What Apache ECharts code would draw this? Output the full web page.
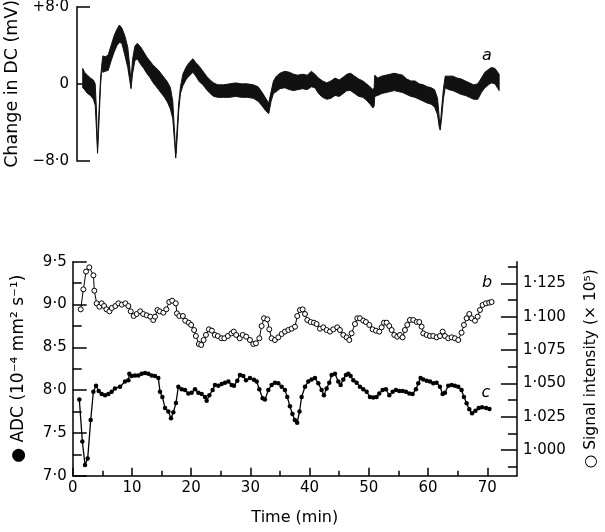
<!DOCTYPE html>
<html><head><meta charset="utf-8">
<script src="https://cdn.jsdelivr.net/npm/echarts@6/dist/echarts.min.js"></script>
<style>html,body{margin:0;padding:0;background:#fff}#c{width:605px;height:532px}</style>
</head><body><div id="c"></div>
<script>
// ---- Panel a: DC potential trace (band drawn between lower and upper envelope), mV vs min
const dcTime  = [1.7,2.0,2.5,3.0,3.5,3.8,4.0,4.2,4.4,4.7,4.95,5.1,5.5,6.0,6.5,7.0,7.5,7.9,8.3,8.8,9.3,9.6,9.85,10.1,10.5,10.9,11.5,12.0,12.5,13.0,13.5,14.0,14.5,15.0,15.5,16.0,16.5,16.9,17.2,17.4,17.6,17.9,18.2,18.6,19.2,19.8,20.3,20.8,21.4,22.0,22.6,23.2,23.8,24.5,25.5,26.5,27.5,28.5,29.5,30.5,31.3,32.0,32.6,33.1,33.5,33.9,34.4,35.0,35.8,36.6,37.3,38.0,38.8,39.6,40.3,40.9,41.5,42.2,42.9,43.6,44.3,45.0,45.7,46.3,46.9,47.6,48.3,49.0,49.6,50.2,50.7,50.9,51.0,51.5,52.2,52.9,53.6,54.3,55.0,55.7,56.4,57.1,57.8,58.5,59.2,59.9,60.5,61.1,61.6,61.9,62.05,62.3,62.6,62.9,63.5,64.2,64.9,65.6,66.3,67.0,67.7,68.4,69.0,69.6,70.2,70.7,71.3,72.0];
const dcUpper = [1.6,1.2,0.9,0.6,0.4,0.0,-2.5,-6.6,-3.5,0.5,2.2,2.9,2.8,3.0,4.0,5.0,5.7,6.1,5.8,5.0,3.8,2.0,0.2,2.5,3.9,4.2,3.8,3.3,2.8,2.4,2.0,1.7,1.4,1.0,0.6,0.2,-0.4,-1.8,-5.0,-7.3,-5.0,-2.0,-0.3,1.0,1.8,2.3,2.6,2.2,1.8,1.3,0.8,0.4,0.1,-0.1,-0.1,0.0,0.1,0.0,0.0,-0.1,-0.3,-0.9,-1.5,-2.0,-0.8,0.3,0.8,1.1,1.3,1.2,1.0,0.9,1.0,0.9,1.3,1.0,0.6,0.3,0.1,0.3,0.6,0.4,0.7,1.0,1.1,0.8,0.5,0.3,0.0,-0.3,-0.6,-0.4,0.9,0.6,0.8,0.9,1.0,1.1,1.0,0.9,0.5,0.3,0.3,0.0,-0.1,-0.3,-0.4,-0.6,-1.5,-3.6,-4.4,-2.5,-0.5,0.8,0.8,0.8,0.6,0.5,0.3,0.1,-0.1,0.0,0.6,1.2,1.5,1.7,1.6,1.0];
const dcLower = [-0.4,-0.6,-1.0,-1.2,-1.6,-2.2,-4.5,-7.2,-4.5,-0.2,1.8,1.2,1.3,1.4,2.4,3.3,4.0,4.3,4.2,3.0,1.7,0.5,-0.5,1.0,2.4,2.6,2.0,1.6,1.1,0.7,0.2,-0.2,-0.6,-1.0,-1.4,-1.9,-2.6,-3.6,-6.0,-7.7,-6.0,-2.8,-1.0,-0.2,0.5,0.9,1.2,0.8,0.2,-0.1,-0.6,-1.0,-1.3,-1.4,-1.4,-1.4,-1.3,-1.4,-1.4,-1.5,-1.8,-2.3,-2.8,-3.1,-1.8,-1.0,-0.8,-0.5,-0.4,-0.6,-0.7,-0.6,-0.5,-0.6,-0.3,-0.4,-1.0,-1.4,-1.6,-1.5,-1.2,-1.3,-1.0,-0.7,-0.7,-1.0,-1.3,-1.4,-1.7,-2.1,-2.5,-2.3,-1.3,-1.2,-1.0,-0.9,-0.8,-0.7,-0.8,-0.9,-1.1,-1.3,-1.4,-1.6,-1.8,-2.0,-2.1,-2.4,-3.2,-4.5,-4.8,-3.5,-1.5,-0.4,-0.6,-0.7,-0.9,-1.1,-1.2,-1.4,-1.6,-1.6,-0.9,-0.4,-0.1,0.1,0.0,-0.7];

// ---- Panel b: signal intensity (x 10^5), open circles, right axis
const bTime = [1.35,1.8,2.25,2.8,3.5,3.65,4.05,4.5,4.9,5.3,5.7,6.2,6.6,7.2,7.7,8.3,8.9,9.4,9.8,10.3,10.8,11.4,11.9,12.5,13.1,13.6,13.9,14.3,14.7,15.3,15.8,16.3,16.8,17.4,17.6,18.0,18.6,19.0,19.6,20.0,20.5,20.8,21.3,21.7,22.1,22.5,23.0,23.5,24.0,24.5,25.1,25.6,26.2,26.8,27.2,27.6,28.2,28.7,29.3,29.93,30.49,30.94,31.51,31.9,32.29,32.86,33.19,33.59,34.15,34.71,35.28,35.84,36.4,36.96,37.53,37.92,38.37,38.82,39.22,39.61,40.17,40.73,41.18,41.75,42.31,42.87,43.44,44.0,44.67,45.12,45.69,46.25,46.7,47.09,47.66,48.05,48.5,49.06,49.51,50.08,50.64,51.2,51.76,52.16,52.55,53.0,53.45,53.85,54.3,54.8,55.25,55.7,56.1,56.49,56.94,57.5,58.07,58.52,58.91,59.19,59.76,60.32,60.88,61.44,62.01,62.46,62.85,63.41,63.98,64.54,65.1,65.66,66.06,66.51,66.96,67.35,67.92,68.37,68.76,69.21,69.77,70.33,70.73];
const bSignal = [1.1055,1.1205,1.1338,1.137,1.131,1.1195,1.110,1.1075,1.110,1.108,1.1055,1.104,1.1065,1.108,1.110,1.109,1.110,1.108,1.104,1.1005,1.102,1.104,1.102,1.101,1.100,1.0975,1.100,1.105,1.104,1.103,1.1055,1.111,1.112,1.110,1.1025,1.1005,1.1005,1.097,1.0955,1.0938,1.090,1.0855,1.0795,1.0788,1.0825,1.0863,1.0905,1.0895,1.0863,1.0855,1.0838,1.0838,1.0855,1.0875,1.0888,1.0863,1.0838,1.0863,1.085,1.0825,1.0795,1.080,1.0838,1.093,1.0988,1.098,1.0905,1.0838,1.0825,1.0845,1.087,1.0888,1.090,1.091,1.0925,1.1005,1.105,1.1055,1.102,1.0975,1.096,1.0955,1.0945,1.091,1.092,1.090,1.0888,1.0905,1.092,1.090,1.0863,1.0845,1.0825,1.0875,1.0945,1.0988,1.0988,1.097,1.096,1.0938,1.0905,1.0895,1.0888,1.092,1.0955,1.0955,1.093,1.090,1.0863,1.085,1.0863,1.0845,1.090,1.0938,1.0975,1.0975,1.096,1.096,1.0925,1.0875,1.0863,1.0855,1.0855,1.0845,1.0855,1.0888,1.0855,1.0838,1.0845,1.0838,1.0825,1.088,1.0938,1.0988,1.102,1.0988,1.097,1.100,1.105,1.1088,1.110,1.1105,1.111];

// ---- Panel c: ADC (10^-4 mm^2 s^-1), filled circles, left axis
const cTime = [1.12,1.63,2.08,2.53,3.04,3.49,3.94,4.39,4.89,5.46,6.02,6.58,7.14,7.99,8.83,9.4,9.56,9.95,10.52,11.08,11.64,12.21,12.77,13.33,13.89,14.46,14.74,15.14,15.59,16.15,16.6,16.99,17.44,17.84,18.4,18.96,19.52,20.08,20.65,21.21,21.77,22.34,22.62,23.07,23.63,24.02,24.59,25.15,25.71,26.28,26.84,27.23,27.79,28.24,28.81,29.26,29.93,30.6,31.06,31.51,32.07,32.46,33.03,33.59,34.15,34.71,35.28,35.84,36.23,36.68,37.1,37.5,37.9,38.3,38.65,39.22,39.78,40.34,40.9,41.47,42.03,42.42,42.87,43.32,43.72,44.28,44.84,45.24,45.69,46.14,46.53,46.93,47.38,47.94,48.5,49.06,49.63,50.19,50.75,51.31,51.76,52.33,52.89,53.45,54.02,54.58,55.14,55.7,56.27,56.83,57.39,57.95,58.35,58.74,59.19,59.76,60.32,60.88,61.44,62.01,62.46,62.85,63.41,63.98,64.54,65.1,65.66,66.06,66.51,66.96,67.43,68.0,68.56,69.12,69.8,70.36];
const cADC = [7.89,7.40,7.125,7.20,7.65,7.98,8.05,7.99,7.955,7.94,7.955,7.98,8.02,8.04,8.10,8.115,8.19,8.165,8.17,8.17,8.19,8.20,8.19,8.17,8.165,8.14,7.98,7.92,7.79,7.75,7.67,7.74,7.85,8.04,8.01,8.00,7.96,7.97,8.01,7.97,7.955,7.92,7.875,7.94,8.00,8.06,8.05,8.07,8.085,8.10,8.06,8.05,8.11,8.175,8.165,8.115,8.14,8.12,8.10,8.01,7.905,7.89,8.00,8.06,8.085,8.08,8.04,8.00,7.92,7.81,7.72,7.65,7.62,7.75,7.92,8.04,8.10,8.125,8.14,8.08,8.00,7.94,8.02,8.085,8.175,8.19,8.10,8.06,8.125,8.175,8.19,8.165,8.115,8.085,8.04,8.01,7.98,7.92,7.915,7.92,7.96,8.00,8.01,7.94,7.98,8.00,7.99,7.99,7.98,7.96,7.955,8.01,8.08,8.14,8.125,8.11,8.10,8.08,8.085,8.04,7.955,7.97,8.05,8.06,8.05,8.04,8.00,7.92,7.845,7.775,7.73,7.76,7.79,7.80,7.79,7.78];

// ---- Tick values
const timeTicks = [0,10,20,30,40,50,60,70];
const timeMinorTicks = [5,15,25,35,45,55,65];
const dcTicks = [-8,8];
const dcLabelsMain = [-8,0];
const dcLabelsTop = [8];
const adcTicks = [7.0,7.5,8.0,8.5,9.0,9.5];
const adcMinorTicks = [7.25,7.75,8.25,8.75,9.25];
const siTicks = [1.000,1.025,1.050,1.075,1.100,1.125];
const siMinorTicks = [0.9875,1.0125,1.0375,1.0625,1.0875,1.1125,1.1375];

const FONT = 'DejaVu Sans';
const zip = (a, b) => a.map((v, i) => [v, b[i]]);
const dot = s => s.replace('.', '\u00B7');
const dcFmt = v => v > 0 ? '+' + dot(v.toFixed(1)) : v < 0 ? '\u2212' + dot((-v).toFixed(1)) : '0';
const lab = {color:'#000', fontFamily:FONT, fontSize:15};
const axLine = {show:true, onZero:false, lineStyle:{color:'#000', width:1.5}};
const noLine = {show:false, onZero:false};
const tick = (vals, len) => ({show:true, inside:true, length:len, customValues:vals, lineStyle:{color:'#000', width:1.5}});
const nameStyle = (size) => ({color:'#000', fontFamily:FONT, fontSize:size});

// band polygon: upper envelope forward, lower envelope backward, through the axis scales
const dcBandItem = (params, api) => {
  if (params.dataIndex !== 0) return null;
  const pts = [];
  for (let i = 0; i < dcTime.length; i++) pts.push(api.coord([dcTime[i], dcUpper[i]]));
  for (let i = dcTime.length - 1; i >= 0; i--) pts.push(api.coord([dcTime[i], dcLower[i]]));
  return {type:'polygon', shape:{points:pts}, style:{fill:'#111', stroke:'#111', lineWidth:1, lineJoin:'round'}};
};

const chart = echarts.init(document.getElementById('c'), null, {renderer:'canvas'});
chart.setOption({
  animation:false,
  backgroundColor:'#fff',
  grid:[
    {left:77, top:6.7, width:439.9, height:154.3, outerBoundsMode:'none', containLabel:false},
    {left:72.7, top:261.7, width:444.2, height:214, outerBoundsMode:'none', containLabel:false}
  ],
  xAxis:[
    {gridIndex:0, type:'value', min:0.73, max:75, show:false},
    {gridIndex:1, type:'value', min:0, max:75, position:'bottom', axisLine:axLine,
      axisTick:tick(timeTicks, 8), splitLine:{show:false},
      axisLabel:Object.assign({customValues:timeTicks, margin:5}, lab),
      name:'Time (min)', nameLocation:'middle', nameGap:34, nameTextStyle:nameStyle(16)},
    {gridIndex:1, type:'value', min:0, max:75, position:'bottom', axisLine:noLine,
      axisTick:tick(timeMinorTicks, 5), axisLabel:{show:false}, splitLine:{show:false}}
  ],
  yAxis:[
    {gridIndex:0, type:'value', min:-8, max:8, position:'left', axisLine:axLine,
      axisTick:tick(dcTicks, 13), splitLine:{show:false},
      axisLabel:Object.assign({customValues:dcLabelsMain, margin:8, formatter:dcFmt}, lab),
      name:'Change in DC (mV)', nameLocation:'middle', nameRotate:90, nameGap:54, nameTextStyle:nameStyle(17.5)},
    {gridIndex:0, type:'value', min:-8, max:8, position:'left', axisLine:noLine,
      axisTick:tick([0], 6), splitLine:{show:false},
      axisLabel:Object.assign({customValues:dcLabelsTop, margin:8, formatter:dcFmt, padding:[8,0,0,0]}, lab)},
    {gridIndex:1, type:'value', min:7, max:9.5, position:'left', axisLine:axLine,
      axisTick:tick(adcTicks, 14), splitLine:{show:false},
      axisLabel:Object.assign({customValues:adcTicks, margin:6, formatter:v => dot(v.toFixed(1))}, lab),
      name:'\u25CF ADC (10\u207B\u2074 mm\u00B2 s\u207B\u00B9)', nameLocation:'middle', nameRotate:90, nameGap:46, nameTextStyle:nameStyle(17)},
    {gridIndex:1, type:'value', min:7, max:9.5, position:'left', axisLine:noLine,
      axisTick:tick(adcMinorTicks, 9), axisLabel:{show:false}, splitLine:{show:false}},
    {gridIndex:1, type:'value', min:0.98073, max:1.14123, position:'right', axisLine:axLine,
      axisTick:tick(siTicks, 16), splitLine:{show:false},
      axisLabel:Object.assign({customValues:siTicks, margin:6, formatter:v => dot(v.toFixed(3))}, lab),
      name:'\u25CB Signal intensity (\u00D7 10\u2075)', nameLocation:'middle', nameRotate:90, nameGap:66, nameTextStyle:nameStyle(15.5)},
    {gridIndex:1, type:'value', min:0.98073, max:1.14123, position:'right', axisLine:noLine,
      axisTick:tick(siMinorTicks, 9), axisLabel:{show:false}, splitLine:{show:false}}
  ],
  series:[
    {type:'custom', name:'DC', xAxisIndex:0, yAxisIndex:0,
      data:dcTime.map((t, i) => [t, dcUpper[i], dcLower[i]]),
      encode:{x:0, y:[1, 2]}, renderItem:dcBandItem, silent:true, clip:true},
    {type:'line', name:'Signal intensity', xAxisIndex:1, yAxisIndex:4, data:zip(bTime, bSignal),
      symbol:'circle', symbolSize:5, showAllSymbol:true,
      itemStyle:{color:'#fff', borderColor:'#000', borderWidth:1}, lineStyle:{color:'#000', width:1}},
    {type:'line', name:'ADC', xAxisIndex:1, yAxisIndex:2, data:zip(cTime, cADC),
      symbol:'circle', symbolSize:4.5, showAllSymbol:true,
      itemStyle:{color:'#000'}, lineStyle:{color:'#000', width:1.3}}
  ],
  graphic:[
    {type:'text', x:487, y:56, style:{text:'a', fontFamily:FONT, fontStyle:'italic', fontSize:16, fill:'#000', align:'center', verticalAlign:'middle'}},
    {type:'text', x:487, y:283, style:{text:'b', fontFamily:FONT, fontStyle:'italic', fontSize:16, fill:'#000', align:'center', verticalAlign:'middle'}},
    {type:'text', x:486, y:393, style:{text:'c', fontFamily:FONT, fontStyle:'italic', fontSize:16, fill:'#000', align:'center', verticalAlign:'middle'}}
  ]
});
</script></body></html>
